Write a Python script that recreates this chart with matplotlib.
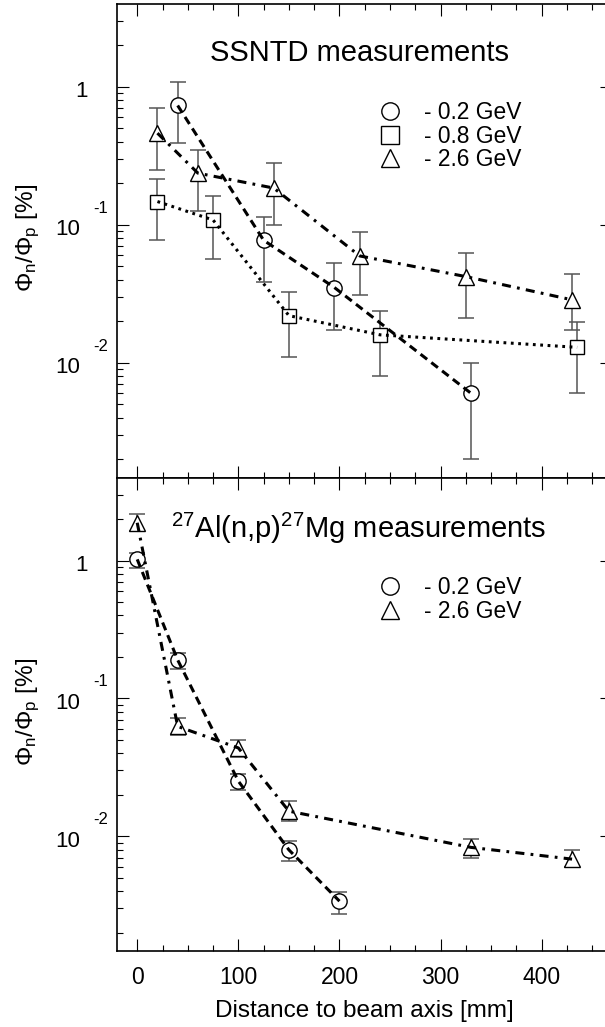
import matplotlib
matplotlib.use('Agg')
import matplotlib.pyplot as plt
from matplotlib.lines import Line2D
from matplotlib.transforms import ScaledTranslation
from matplotlib.ticker import LogLocator, MultipleLocator, NullFormatter
import numpy as np

plt.rcParams['font.family'] = ['Liberation Sans', 'DejaVu Sans']
plt.rcParams['mathtext.fontset'] = 'custom'
plt.rcParams['mathtext.rm'] = 'Liberation Sans'
plt.rcParams['mathtext.it'] = 'Liberation Sans:italic'
plt.rcParams['mathtext.bf'] = 'Liberation Sans:bold'
plt.rcParams['lines.scale_dashes'] = False

# ---------------- data (SSNTD, top panel) ----------------
ssntd_x_02 = [40, 125, 195, 330]
ssntd_y_02 = [0.73, 0.077, 0.035, 0.0060]
ssntd_lo_02 = [0.39, 0.0386, 0.0171, 0.0020]
ssntd_hi_02 = [1.08, 0.114, 0.0525, 0.0099]

ssntd_x_08 = [20, 75, 150, 240, 435]
ssntd_y_08 = [0.147, 0.108, 0.0219, 0.0159, 0.0129]
ssntd_lo_08 = [0.0775, 0.0564, 0.0110, 0.0080, 0.0060]
ssntd_hi_08 = [0.213, 0.160, 0.0327, 0.0238, 0.0198]

ssntd_x_26 = [20, 60, 135, 220, 325, 430]
ssntd_y_26 = [0.46, 0.236, 0.184, 0.0593, 0.042, 0.0285]
ssntd_lo_26 = [0.249, 0.125, 0.100, 0.0308, 0.021, 0.0173]
ssntd_hi_26 = [0.70, 0.348, 0.279, 0.088, 0.0623, 0.044]

# ---------------- data (27Al(n,p)27Mg, bottom panel) ----------------
al_x_02 = [0, 40, 100, 150, 200]
al_y_02 = [1.02, 0.19, 0.0251, 0.00796, 0.00338]
al_lo_02 = [0.88, 0.164, 0.0216, 0.00664, 0.00273]
al_hi_02 = [1.14, 0.212, 0.0284, 0.0092, 0.00393]

al_x_26 = [0, 40, 100, 150, 330, 430]
al_y_26 = [1.88, 0.0626, 0.0437, 0.0152, 0.0083, 0.00682]
al_lo_26 = [1.65, 0.0539, 0.0376, 0.0129, 0.0069, 0.00594]
al_hi_26 = [2.17, 0.072, 0.050, 0.0179, 0.0096, 0.0079]

top_title = 'SSNTD measurements'
bottom_title = r'$^{27}$Al(n,p)$^{27}$Mg measurements'
top_labels = ['- 0.2 GeV', '- 0.8 GeV', '- 2.6 GeV']
bottom_labels = ['- 0.2 GeV', '- 2.6 GeV']
ytick_vals = [1e-2, 1e-1, 1.0]
ytick_base = ['10', '10', '1']
ytick_exp = ['-2', '-1', '']
xtick_vals = [0, 100, 200, 300, 400]
xtick_labels = ['0', '100', '200', '300', '400']
ylabel = r'$\Phi_{\mathrm{n}}/\Phi_{\mathrm{p}}$ [%]'
xlabel = 'Distance to beam axis [mm]'

W, H = 605, 1027
fig = plt.figure(figsize=(W / 100, H / 100), dpi=100)
ax_left = 117 / W
ax_w = (612 - 117) / W
ax1 = fig.add_axes([ax_left, (H - 477.5) / H, ax_w, 473.5 / H])
ax2 = fig.add_axes([ax_left, (H - 951) / H, ax_w, 473 / H])

LS_DASH = (0, (6, 3.8))
LS_DOT = (0, (2.0, 3.3))
LS_DASHDOT = (0, (6.5, 4.5, 2.0, 4.5))
ECOL = '#555555'


def series(ax, x, y, lo, hi, marker, ls, ms=11):
    y = np.asarray(y)
    lo = np.asarray(lo)
    hi = np.asarray(hi)
    ax.errorbar(x, y, yerr=[y - lo, hi - y], fmt='none', ecolor=ECOL,
                elinewidth=1.1, capsize=6, capthick=1.1, zorder=2)
    ax.plot(x, y, ls='none', marker=marker, ms=ms, mfc='white',
            mec='black', mew=1.0, zorder=3)
    ax.plot(x, y, color='black', lw=2.2, ls=ls, zorder=4)


series(ax1, ssntd_x_02, ssntd_y_02, ssntd_lo_02, ssntd_hi_02, 'o', LS_DASH)
series(ax1, ssntd_x_08, ssntd_y_08, ssntd_lo_08, ssntd_hi_08, 's', LS_DOT, ms=10.5)
series(ax1, ssntd_x_26, ssntd_y_26, ssntd_lo_26, ssntd_hi_26, '^', LS_DASHDOT)

series(ax2, al_x_02, al_y_02, al_lo_02, al_hi_02, 'o', LS_DASH)
series(ax2, al_x_26, al_y_26, al_lo_26, al_hi_26, '^', LS_DASHDOT)

for ax in (ax1, ax2):
    ax.set_yscale('log')
    ax.set_ylim(0.00147, 3.97)
    ax.set_xlim(-20, 469.5)
    ax.set_xticks(xtick_vals)
    ax.xaxis.set_minor_locator(MultipleLocator(25))
    ax.set_yticks(ytick_vals)
    ax.yaxis.set_minor_locator(LogLocator(base=10, subs=np.arange(2, 10), numticks=20))
    ax.yaxis.set_major_formatter(NullFormatter())
    ax.yaxis.set_minor_formatter(NullFormatter())
    ax.tick_params(which='both', direction='in', top=True, right=True, width=0.8)
    ax.tick_params(which='major', length=8.6)
    ax.tick_params(which='minor', length=4.3)
    for s in ax.spines.values():
        s.set_linewidth(1.2)
    tr = ax.get_yaxis_transform()
    for v, b, e in zip(ytick_vals, ytick_base, ytick_exp):
        if e:
            ax.text(0, v, b, fontsize=16, ha='right', va='baseline',
                    transform=tr + ScaledTranslation(-37 / 100, -10.3 / 100, fig.dpi_scale_trans))
            ax.text(0, v, e, fontsize=12, ha='left', va='baseline',
                    transform=tr + ScaledTranslation(-24 / 100, 12 / 100, fig.dpi_scale_trans))
        else:
            ax.text(0, v, b, fontsize=16, ha='right', va='baseline',
                    transform=tr + ScaledTranslation(-29 / 100, -10.3 / 100, fig.dpi_scale_trans))
    ax.set_ylabel(ylabel, fontsize=17.5)
    ax.yaxis.set_label_coords(-0.152, 0.505)

ax1.xaxis.set_major_formatter(NullFormatter())
ax2.set_xticklabels(xtick_labels, fontsize=16.5)
ax2.tick_params(axis='x', which='major', pad=11)
ax2.set_xlabel(xlabel, fontsize=17.5, labelpad=8)

ax1.text(0.489, 0.8965, top_title, fontsize=21, ha='center', va='center',
         transform=ax1.transAxes)
ax2.text(0.489, 0.894, bottom_title, fontsize=21, ha='center', va='center',
         transform=ax2.transAxes)

top_handles = [Line2D([], [], ls='none', marker=m, ms=12.5, mfc='white', mec='black', mew=1.0)
               for m in ['o', 's', '^']]
bottom_handles = [Line2D([], [], ls='none', marker=m, ms=12.5, mfc='white', mec='black', mew=1.0)
                  for m in ['o', '^']]
leg_kw = dict(frameon=False, fontsize=16.4, handlelength=1.0, handletextpad=0.99,
              labelspacing=0.02, borderpad=0, borderaxespad=0, loc='center left')
ax1.legend(top_handles, top_labels, bbox_to_anchor=(0.5285, 0.7204), **leg_kw)
ax2.legend(bottom_handles, bottom_labels, bbox_to_anchor=(0.5285, 0.743), **leg_kw)

fig.savefig('out.png', dpi=100)
